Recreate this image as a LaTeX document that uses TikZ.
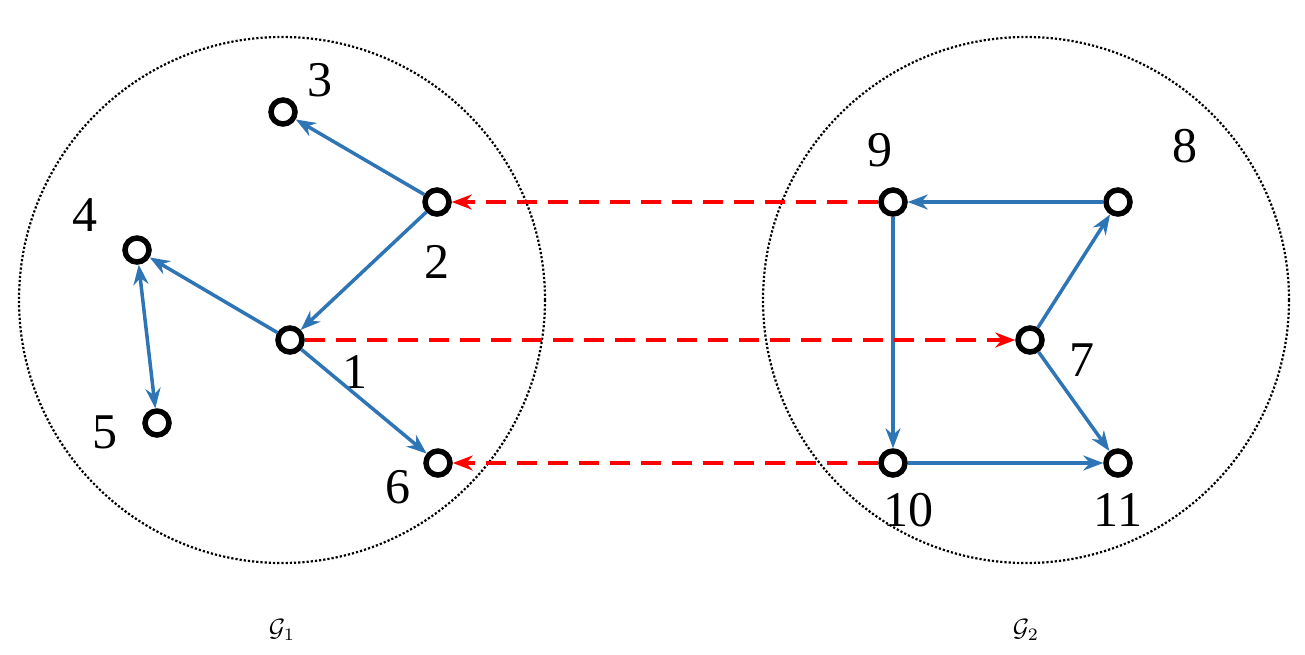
\documentclass[tikz,border=0pt]{standalone}
\usepackage{fontspec}
\setmainfont{Liberation Serif}
\usetikzlibrary{arrows.meta}
\begin{document}
\begin{tikzpicture}[x=1pt,y=-1pt,
  vtx/.style={circle,draw=black,line width=5.5pt,minimum size=24pt,inner sep=0pt},
  lab/.style={font=\fontsize{50}{50}\selectfont},
  be/.style={draw={rgb,255:red,46;green,117;blue,182},line width=3.5pt,-{Stealth[length=20pt,width=15pt]}},
  re/.style={draw=red,line width=3.5pt,dash pattern=on 20pt off 11pt,-{Stealth[length=20pt,width=15pt]}},
  grp/.style={draw=black,line width=2.2pt,dotted}]
\useasboundingbox (0,0) rectangle (1305,654);
\draw[grp] (282,300) circle[radius=263];
\draw[grp] (1026,300) circle[radius=263];
\node[vtx] (n3) at (283,112) {};
\node[vtx] (n2) at (437,202) {};
\node[vtx] (n4) at (137,250) {};
\node[vtx] (n1) at (290,340) {};
\node[vtx] (n5) at (157,423) {};
\node[vtx] (n6) at (438,463) {};
\node[vtx] (n9) at (893,202) {};
\node[vtx] (n8) at (1118,202) {};
\node[vtx] (n7) at (1030,340) {};
\node[vtx] (n10) at (893,463) {};
\node[vtx] (n11) at (1118,463) {};
\node[lab] (l3) at (320,80) {3};
\node[lab] (l2) at (437,262) {2};
\node[lab] (l4) at (85,215) {4};
\node[lab] (l1) at (355,372) {1};
\node[lab] (l5) at (105,432) {5};
\node[lab] (l6) at (398,487) {6};
\node[lab] (l9) at (880,150) {9};
\node[lab] (l8) at (1185,146) {8};
\node[lab] (l7) at (1082,360) {7};
\node[lab] (l10) at (908,510) {10};
\node[lab] (l11) at (1118,510) {11};
\node[scale=2.5,transform shape] (g1) at (282,630) {$\mathcal{G}_1$};
\node[scale=2.5,transform shape] (g2) at (1026,630) {$\mathcal{G}_2$};
\draw[be] (n2) -- (n3);
\draw[be] (n2) -- (n1);
\draw[be] (n1) -- (n4);
\draw[be,{Stealth[length=20pt,width=15pt]}-{Stealth[length=20pt,width=15pt]}] (n4) -- (n5);
\draw[be] (n1) -- (n6);
\draw[be] (n8) -- (n9);
\draw[be] (n7) -- (n8);
\draw[be] (n7) -- (n11);
\draw[be] (n9) -- (n10);
\draw[be] (n10) -- (n11);
\draw[re] (n9) -- (n2);
\draw[re] (n1) -- (n7);
\draw[re] (n10) -- (n6);
\end{tikzpicture}
\end{document}
